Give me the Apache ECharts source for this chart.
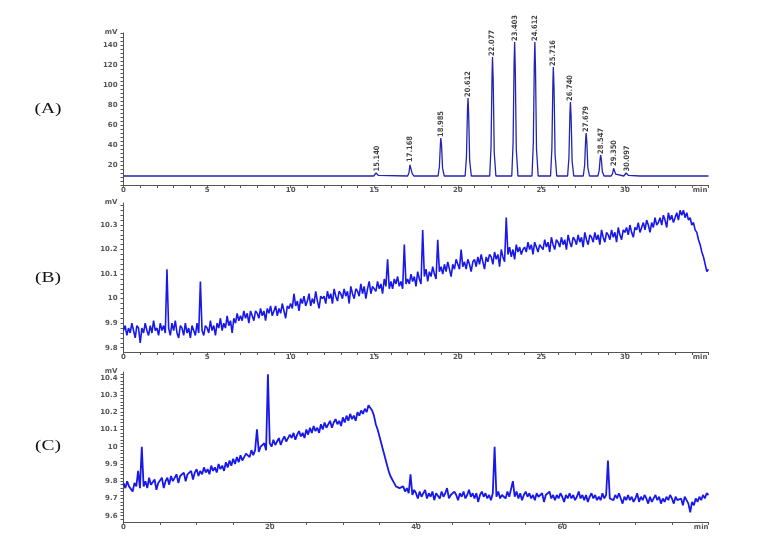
<!DOCTYPE html>
<html><head><meta charset="utf-8">
<script src="https://cdn.jsdelivr.net/npm/echarts@6/dist/echarts.min.js"></script>
<style>html,body{margin:0;padding:0;background:#fff}#c{width:758px;height:551px}</style>
</head><body><div id="c"></div>
<script>
// ---------- data ----------
const panelLabels = ['(A)', '(B)', '(C)'];

// Panel A: peaks (retention time, min / height, mV)
const peakTimes   = [15.140, 17.168, 18.985, 20.612, 22.077, 23.403, 24.612, 25.716, 26.740, 27.679, 28.547, 29.350, 30.097];
const peakHeights = [12.5, 22, 47, 87, 128, 143, 143, 118, 83, 52, 30, 18, 12.5];
const peakLabels  = ['15.140','17.168','18.985','20.612','22.077','23.403','24.612','25.716','26.740','27.679','28.547','29.350','30.097'];

// Panel A trace [min, mV]
const traceA = [
  [0,9],[8.15,9],[8.2,10.3],[8.25,9],
  [14.97,9],[15.05,9.9],[15.11,12.0],[15.14,12.5],[15.18,11.8],[15.24,9.7],[15.34,9],
  [17.0,9],[17.08,12.3],[17.14,20.1],[17.168,22],[17.21,19.4],[17.27,11.6],[17.37,9],
  [18.82,9],[18.9,18.5],[18.96,41.3],[18.985,47],[19.03,39.4],[19.09,16.6],[19.19,9],
  [20.44,9],[20.52,28.5],[20.58,75.3],[20.612,87],[20.65,71.4],[20.71,24.6],[20.81,9],
  [21.91,9],[21.99,38.8],[22.05,110.2],[22.077,128],[22.12,104.2],[22.18,32.8],[22.28,9],
  [23.23,9],[23.31,42.5],[23.37,122.9],[23.403,143],[23.44,116.2],[23.5,35.8],[23.6,9],
  [24.44,9],[24.52,42.5],[24.58,122.9],[24.612,143],[24.65,116.2],[24.71,35.8],[24.81,9],
  [25.55,9],[25.63,36.3],[25.69,101.7],[25.716,118],[25.76,96.2],[25.82,30.8],[25.92,9],
  [26.57,9],[26.65,27.5],[26.71,71.9],[26.74,83],[26.78,68.2],[26.84,23.8],[26.94,9],
  [27.51,9],[27.59,19.8],[27.65,45.6],[27.679,52],[27.72,43.4],[27.78,17.6],[27.88,9],
  [28.38,9],[28.46,14.3],[28.52,26.9],[28.547,30],[28.59,25.8],[28.65,13.2],[28.75,9],
  [29.18,9],[29.26,11.3],[29.32,16.7],[29.35,18],[29.39,16.2],[29.45,10.8],[29.55,9],
  [29.93,9],[30.01,9.9],[30.07,12.0],[30.097,12.5],[30.14,11.8],[30.2,9.7],[30.3,9],
  [30.9,9],[31.0,10.2],[31.1,9],[35,9]
];

// Panel B: samples every 0.1 min from 0 (mV)
const stepB = 0.1;
const valuesB = [
  9.87,9.89,9.85,9.88,9.86,9.90,9.87,9.84,9.89,9.88,
  9.82,9.88,9.86,9.90,9.87,9.85,9.89,9.86,9.91,9.87,
  9.88,9.85,9.90,9.87,9.89,9.86,10.12,9.88,9.85,9.90,
  9.87,9.91,9.86,9.84,9.89,9.88,9.85,9.90,9.86,9.88,
  9.84,9.89,9.87,9.85,9.90,9.86,10.07,9.87,9.85,9.89,
  9.88,9.86,9.91,9.87,9.89,9.85,9.90,9.88,9.92,9.87,
  9.90,9.88,9.93,9.89,9.91,9.86,9.92,9.90,9.94,9.91,
  9.93,9.91,9.95,9.92,9.94,9.90,9.95,9.93,9.91,9.95,
  9.94,9.92,9.96,9.93,9.95,9.91,9.96,9.94,9.97,9.93,
  9.95,9.97,9.93,9.96,9.94,9.98,9.95,9.92,9.97,9.96,
  9.98,9.96,10.02,9.97,9.99,9.95,10.00,9.98,10.01,9.97,
  9.99,10.02,9.97,10.00,9.98,10.03,9.99,9.96,10.01,10.00,
  10.01,9.98,10.03,10.00,10.02,9.98,10.04,10.01,9.99,10.03,
  10.02,10.00,10.04,10.01,10.03,9.98,10.05,10.02,10.00,10.04,
  10.03,10.01,10.06,10.02,10.05,10.00,10.04,10.07,10.02,10.05,
  10.05,10.03,10.07,10.04,10.06,10.02,10.08,10.05,10.16,10.04,
  10.07,10.04,10.08,10.06,10.09,10.05,10.07,10.04,10.22,10.06,
  10.08,10.06,10.10,10.07,10.09,10.05,10.11,10.08,10.06,10.28,
  10.09,10.12,10.07,10.11,10.09,10.13,10.10,10.08,10.24,10.11,
  10.13,10.10,10.14,10.11,10.15,10.12,10.09,10.14,10.12,10.16,
  10.14,10.12,10.20,10.13,10.15,10.12,10.16,10.14,10.11,10.15,
  10.16,10.13,10.17,10.14,10.18,10.15,10.12,10.17,10.15,10.18,
  10.17,10.14,10.19,10.16,10.18,10.13,10.20,10.17,10.15,10.33,
  10.18,10.21,10.17,10.20,10.16,10.22,10.19,10.21,10.18,10.20,
  10.21,10.19,10.23,10.20,10.22,10.18,10.23,10.21,10.19,10.22,
  10.22,10.20,10.24,10.21,10.23,10.19,10.25,10.22,10.20,10.24,
  10.23,10.21,10.25,10.22,10.24,10.20,10.26,10.23,10.21,10.25,
  10.24,10.22,10.26,10.23,10.25,10.21,10.27,10.24,10.22,10.26,
  10.25,10.23,10.27,10.24,10.26,10.22,10.28,10.25,10.23,10.27,
  10.26,10.24,10.28,10.25,10.27,10.23,10.29,10.26,10.24,10.28,
  10.27,10.29,10.26,10.30,10.27,10.25,10.29,10.28,10.31,10.27,
  10.29,10.31,10.28,10.32,10.30,10.27,10.31,10.29,10.33,10.30,
  10.31,10.33,10.30,10.34,10.32,10.29,10.35,10.32,10.34,10.31,
  10.33,10.35,10.32,10.36,10.34,10.36,10.33,10.35,10.32,10.33,
  10.30,10.31,10.28,10.27,10.24,10.22,10.19,10.17,10.14,10.11,
  10.12
];

// Panel C: samples every 0.25 min from 0 (mV)
const stepC = 0.25;
const valuesC = [
  9.79,9.76,9.80,9.77, 9.78,9.74,9.79,9.77, 9.86,9.76,10.00,9.77, 9.80,9.76,9.82,9.78, 9.77,9.81,9.75,9.79,
  9.78,9.82,9.76,9.80, 9.82,9.78,9.83,9.80, 9.81,9.84,9.79,9.83, 9.82,9.85,9.80,9.84, 9.83,9.86,9.81,9.85,
  9.87,9.83,9.86,9.84, 9.88,9.85,9.87,9.84, 9.89,9.86,9.88,9.85, 9.90,9.87,9.89,9.86, 9.91,9.88,9.92,9.89,
  9.93,9.90,9.94,9.91, 9.95,9.92,9.94,9.96, 9.97,9.94,9.98,9.95, 9.98,10.10,9.97,10.00, 9.99,10.02,9.98,10.42,
  10.02,10.00,10.04,10.01, 10.03,10.05,10.01,10.04, 10.06,10.03,10.05,10.07, 10.05,10.08,10.04,10.07, 10.09,10.06,10.08,10.05,
  10.10,10.07,10.11,10.08, 10.12,10.09,10.11,10.08, 10.13,10.10,10.14,10.11, 10.12,10.15,10.11,10.14, 10.16,10.13,10.15,10.12,
  10.17,10.14,10.18,10.15, 10.19,10.16,10.18,10.15, 10.20,10.18,10.21,10.19, 10.22,10.20,10.24,10.25, 10.21,10.18,10.13,10.10,
  10.06,10.02,9.98,9.94, 9.90,9.86,9.83,9.81, 9.79,9.77,9.78,9.76, 9.75,9.77,9.74,9.76, 9.73,9.84,9.72,9.75,
  9.73,9.70,9.74,9.71, 9.72,9.75,9.70,9.73, 9.71,9.74,9.69,9.73, 9.72,9.70,9.74,9.71, 9.73,9.76,9.70,9.72,
  9.71,9.74,9.72,9.69, 9.73,9.71,9.74,9.70, 9.72,9.75,9.71,9.73, 9.70,9.73,9.68,9.72, 9.74,9.71,9.73,9.70,
  9.72,9.69,9.73,10.00, 9.71,9.74,9.70,9.72, 9.73,9.70,9.74,9.71, 9.72,9.80,9.71,9.74, 9.70,9.73,9.69,9.72,
  9.74,9.71,9.73,9.70, 9.72,9.69,9.73,9.71, 9.70,9.73,9.68,9.72, 9.71,9.74,9.70,9.72, 9.69,9.72,9.70,9.73,
  9.71,9.68,9.72,9.70, 9.73,9.70,9.72,9.69, 9.71,9.74,9.70,9.72, 9.69,9.72,9.68,9.71, 9.73,9.70,9.72,9.69,
  9.71,9.69,9.73,9.70, 9.72,9.92,9.70,9.71, 9.69,9.72,9.70,9.73, 9.70,9.67,9.71,9.69, 9.72,9.69,9.71,9.68,
  9.70,9.73,9.68,9.71, 9.69,9.72,9.70,9.67, 9.71,9.68,9.70,9.72, 9.69,9.71,9.67,9.70, 9.68,9.71,9.69,9.72,
  9.70,9.67,9.71,9.69, 9.68,9.70,9.66,9.71, 9.69,9.67,9.62,9.68, 9.66,9.70,9.68,9.71, 9.69,9.72,9.70,9.73,
  9.72
];

// tick labels
const xLabelsAB = [0, 5, 10, 15, 20, 25, 30];
const xLabelsC  = [0, 20, 40, 60];
const yLabelsA  = [20, 40, 60, 80, 100, 120, 140];
const yLabelsB  = [9.8, 9.9, 10, 10.1, 10.2, 10.3];
const yLabelsC  = [9.6, 9.7, 9.8, 9.9, 10, 10.1, 10.2, 10.3, 10.4];

// ---------- chart ----------
const dataB = valuesB.map((v, i) => [+(i * stepB).toFixed(2), v]);
const dataC = valuesC.map((v, i) => [+(i * stepC).toFixed(2), v]);
const peakPts = peakTimes.map((t, i) => ({ value: [t, peakHeights[i]], label: { formatter: peakLabels[i] } }));

function range(a, b, s) { const r = []; for (let i = 0; a + i * s <= b + 1e-9; i++) r.push(+(a + i * s).toFixed(4)); return r; }

const axisColor = '#555';
const labelFont = { fontFamily: 'DejaVu Sans', fontWeight: 'bold', fontSize: 7, color: '#555' };

function xAxis(gi, max, labels, ticks, minPos) {
  return {
    type: 'value', gridIndex: gi, min: 0, max: max,
    axisLine: { show: true, onZero: false, lineStyle: { color: axisColor, width: 1 } },
    axisTick: { show: true, length: 3, customValues: ticks, lineStyle: { color: axisColor } },
    axisLabel: Object.assign({ margin: 2, customValues: labels.concat([minPos]),
      formatter: v => (Math.abs(v - minPos) < 1e-6 ? 'min' : String(v)) }, labelFont),
    splitLine: { show: false }
  };
}
function yAxis(gi, min, max, labels, ticks) {
  return {
    type: 'value', gridIndex: gi, min: min, max: max,
    name: 'mV', nameLocation: 'end', nameGap: 1,
    nameTextStyle: Object.assign({ align: 'right', verticalAlign: 'bottom', padding: [0, 6, -4, 0] }, labelFont),
    axisLine: { show: true, lineStyle: { color: axisColor, width: 1 } },
    axisTick: { show: true, length: 3, customValues: ticks, lineStyle: { color: axisColor } },
    axisLabel: Object.assign({ margin: 6, customValues: labels }, labelFont),
    splitLine: { show: false }
  };
}

const chart = echarts.init(document.getElementById('c'), null, { renderer: 'canvas' });
chart.setOption({
  animation: false,
  backgroundColor: '#fff',
  grid: [
    { left: 123.5, width: 585, top: 33, height: 152 },
    { left: 123.5, width: 585, top: 203, height: 149 },
    { left: 123.5, width: 585, top: 372, height: 150 }
  ],
  xAxis: [
    xAxis(0, 35, xLabelsAB, range(0, 35, 1), 34.5),
    xAxis(1, 35, xLabelsAB, range(0, 35, 1), 34.5),
    xAxis(2, 80, xLabelsC, range(0, 80, 5), 79)
  ],
  yAxis: [
    yAxis(0, 0, 152, yLabelsA, range(0, 152, 4)),
    yAxis(1, 9.7825, 10.3897, yLabelsB, range(9.8, 10.38, 0.02)),
    yAxis(2, 9.5635, 10.433, yLabelsC, range(9.58, 10.42, 0.02))
  ],
  series: [
    { type: 'line', xAxisIndex: 0, yAxisIndex: 0, data: traceA, showSymbol: false, symbol: 'none',
      lineStyle: { color: '#2424b0', width: 1.3 } },
    { type: 'scatter', xAxisIndex: 0, yAxisIndex: 0, data: peakPts, symbolSize: 0,
      label: { show: true, position: 'top', distance: 1, rotate: 90, align: 'left', verticalAlign: 'middle',
        fontFamily: 'Liberation Sans Narrow, DejaVu Sans Condensed, sans-serif', fontWeight: 'bold', fontSize: 7.5, color: '#111' } },
    { type: 'line', xAxisIndex: 1, yAxisIndex: 1, data: dataB, showSymbol: false, symbol: 'none',
      lineStyle: { color: '#1818e8', width: 1.6 } },
    { type: 'line', xAxisIndex: 2, yAxisIndex: 2, data: dataC, showSymbol: false, symbol: 'none',
      lineStyle: { color: '#1818e8', width: 1.8 } }
  ],
  graphic: panelLabels.map((t, i) => ({
    type: 'text', x: 48, y: [109, 278, 446][i], scaleX: 1.3,
    style: { text: t, font: '15px "Liberation Serif", serif', fill: '#111', align: 'center', verticalAlign: 'middle' }
  }))
});
</script>
</body></html>
